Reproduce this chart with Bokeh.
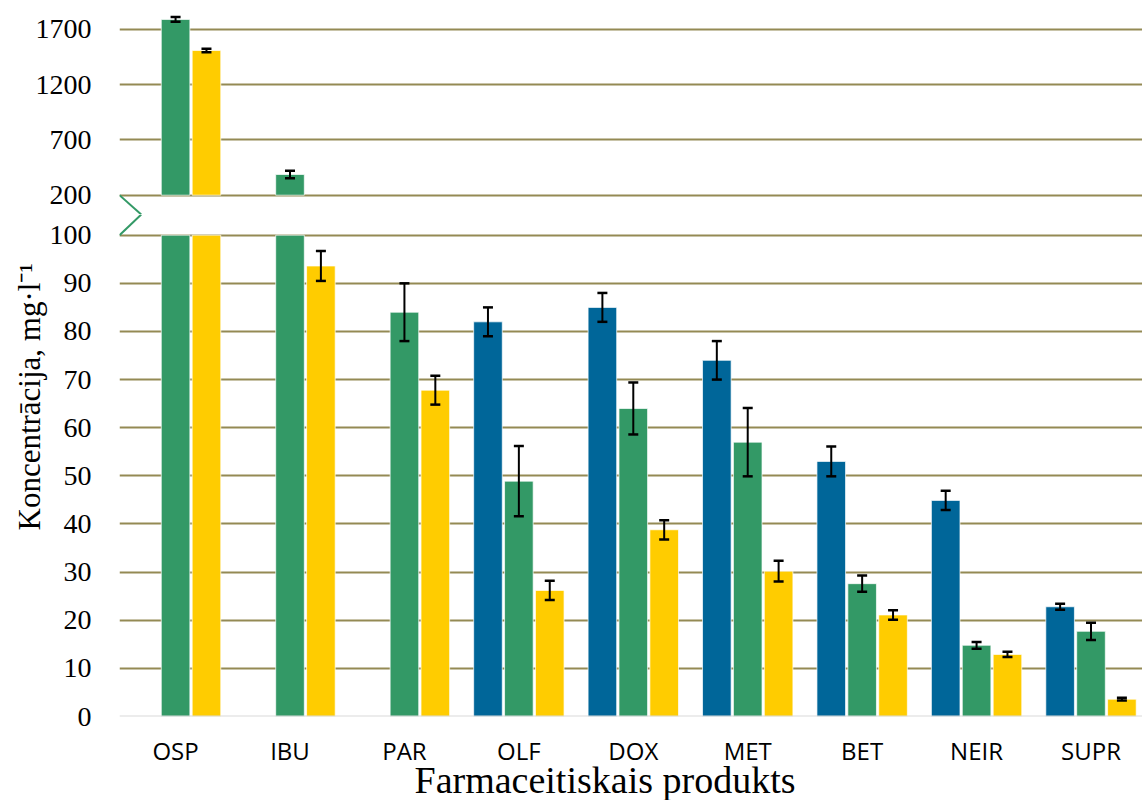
import numpy as np
from bokeh.plotting import figure
from bokeh.layouts import column
from bokeh.models import ColumnDataSource, FixedTicker, Whisker, TeeHead, Span, Title
from bokeh.embed import file_html
from bokeh.resources import INLINE

# ---- data -------------------------------------------------------------
categories = ["OSP", "IBU", "PAR", "OLF", "DOX", "MET", "BET", "NEIR", "SUPR"]

series1_vals = [None, None, None, 82, 85, 74, 53, 44.9, 22.8]
series1_err = [None, None, None, 3.0, 3.0, 4.0, 3.1, 2.0, 0.6]

series2_vals = [1788, 387, 84, 48.9, 64, 57, 27.6, 14.8, 17.7]
series2_err = [22, 33, 6.0, 7.3, 5.4, 7.1, 1.7, 0.7, 1.8]

series3_vals = [1507, 93.6, 67.8, 26.2, 38.8, 30.2, 21.1, 12.9, 3.6]
series3_err = [15, 3.1, 3.0, 2.0, 2.0, 2.15, 1.0, 0.55, 0.3]

upper_ticks = [200, 700, 1200, 1700]
lower_ticks = [0, 10, 20, 30, 40, 50, 60, 70, 80, 90, 100]

# ---- layout constants ---------------------------------------------------
BLUE, GREEN, YELLOW = "#006699", "#339966", "#FFCC00"
GRID = "#948A54"
SERIF = "Liberation Serif"
SANS = "Open Sans"

BAR_W = 0.25
OFFSET = 0.27
X_RANGE = (-0.49, 8.45)
FRAME_W = 1023
LEFT = 119

UPPER_RANGE = (25.6, 1959)   # upper panel, starts above the axis break
LOWER_RANGE = (0, 104.3)     # lower panel
BREAK_LOW, BREAK_HIGH = 100, 200

series = [
    (series1_vals, series1_err, BLUE, -OFFSET),
    (series2_vals, series2_err, GREEN, 0.0),
    (series3_vals, series3_err, YELLOW, OFFSET),
]


def style(p, ticks):
    p.outline_line_color = None
    p.background_fill_color = "white"
    p.border_fill_color = "white"
    p.xgrid.grid_line_color = None
    p.ygrid.ticker = FixedTicker(ticks=[t for t in ticks if t != 0])
    p.ygrid.grid_line_color = GRID
    p.ygrid.grid_line_width = 2
    ax = p.yaxis[0]
    ax.ticker = FixedTicker(ticks=ticks)
    ax.axis_line_color = None
    ax.major_tick_line_color = None
    ax.minor_tick_line_color = None
    ax.major_label_text_font = SERIF
    ax.major_label_text_font_size = "28px"
    ax.major_label_text_color = "black"
    ax.major_label_standoff = 22


def whiskers(p, src):
    w = Whisker(source=src, base="x", upper="upper", lower="lower",
                dimension="height", line_color="black", line_width=2,
                level="overlay",
                upper_head=TeeHead(size=10, line_color="black", line_width=2.5),
                lower_head=TeeHead(size=10, line_color="black", line_width=2.5))
    p.add_layout(w)


# ---- upper panel (values above the break) --------------------------------
top = figure(frame_width=FRAME_W, frame_height=214, x_range=X_RANGE,
             y_range=UPPER_RANGE, output_backend="svg", toolbar_location=None,
             min_border_left=LEFT, min_border_right=0, min_border_top=0,
             min_border_bottom=0)
top.xaxis.visible = False
style(top, upper_ticks)

for vals, errs, color, off in series:
    idx = [i for i, v in enumerate(vals) if v is not None and v > BREAK_HIGH]
    if not idx:
        continue
    src = ColumnDataSource(dict(
        x=[i + off for i in idx],
        top=[vals[i] for i in idx],
        upper=[vals[i] + errs[i] for i in idx],
        lower=[vals[i] - errs[i] for i in idx],
    ))
    top.vbar(x="x", top="top", bottom=BREAK_HIGH, width=BAR_W, source=src,
             fill_color=color, line_color="white", line_alpha=0.7, line_width=1)
    whiskers(top, src)

# upper half of the break mark
tip_x = X_RANGE[0] + 0.19
top.line([X_RANGE[0], tip_x], [BREAK_HIGH, UPPER_RANGE[0]], line_color=GREEN,
         line_width=2)

# ---- lower panel ---------------------------------------------------------
bot = figure(frame_width=FRAME_W, frame_height=502, x_range=X_RANGE,
             y_range=LOWER_RANGE, output_backend="svg", toolbar_location=None,
             min_border_left=LEFT, min_border_right=0, min_border_top=0,
             min_border_bottom=84)
style(bot, lower_ticks)

for vals, errs, color, off in series:
    idx = [i for i, v in enumerate(vals) if v is not None]
    src = ColumnDataSource(dict(
        x=[i + off for i in idx],
        top=[min(vals[i], BREAK_LOW) for i in idx],
    ))
    bot.vbar(x="x", top="top", bottom=0, width=BAR_W, source=src,
             fill_color=color, line_color="white", line_alpha=0.7, line_width=1)
    eidx = [i for i in idx if vals[i] <= BREAK_LOW]
    esrc = ColumnDataSource(dict(
        x=[i + off for i in eidx],
        upper=[vals[i] + errs[i] for i in eidx],
        lower=[vals[i] - errs[i] for i in eidx],
    ))
    whiskers(bot, esrc)

bot.add_layout(Span(location=0, dimension="width", line_color="#D9D9D9",
                    line_width=2))

# lower half of the break mark
bot.line([tip_x, X_RANGE[0]], [LOWER_RANGE[1], BREAK_LOW], line_color=GREEN,
         line_width=2)

xa = bot.xaxis[0]
xa.ticker = FixedTicker(ticks=list(range(len(categories))))
xa.major_label_overrides = {i: c for i, c in enumerate(categories)}
xa.axis_line_color = None
xa.major_tick_line_color = None
xa.minor_tick_line_color = None
xa.major_label_text_font = SANS
xa.major_label_text_font_size = "24px"
xa.major_label_text_color = "black"
xa.major_label_standoff = 11

# horizontal axis title, placed from the left edge of the frame
bot.add_layout(Title(text="Farmaceitiskais produkts", align="left", offset=295,
                     vertical_align="top", standoff=-22, text_font=SERIF,
                     text_font_size="38px", text_font_style="normal",
                     text_color="black"), "below")

# vertical axis title, placed from the bottom of the lower frame
bot.add_layout(Title(text="Koncentrācija,  mg·l⁻¹", align="left", offset=186,
                     standoff=0, text_font=SERIF, text_font_size="31px",
                     text_font_style="normal", text_color="black"), "left")

layout = column(top, bot, spacing=0)

with open("out.html", "w") as f:
    f.write(file_html(layout, INLINE))
